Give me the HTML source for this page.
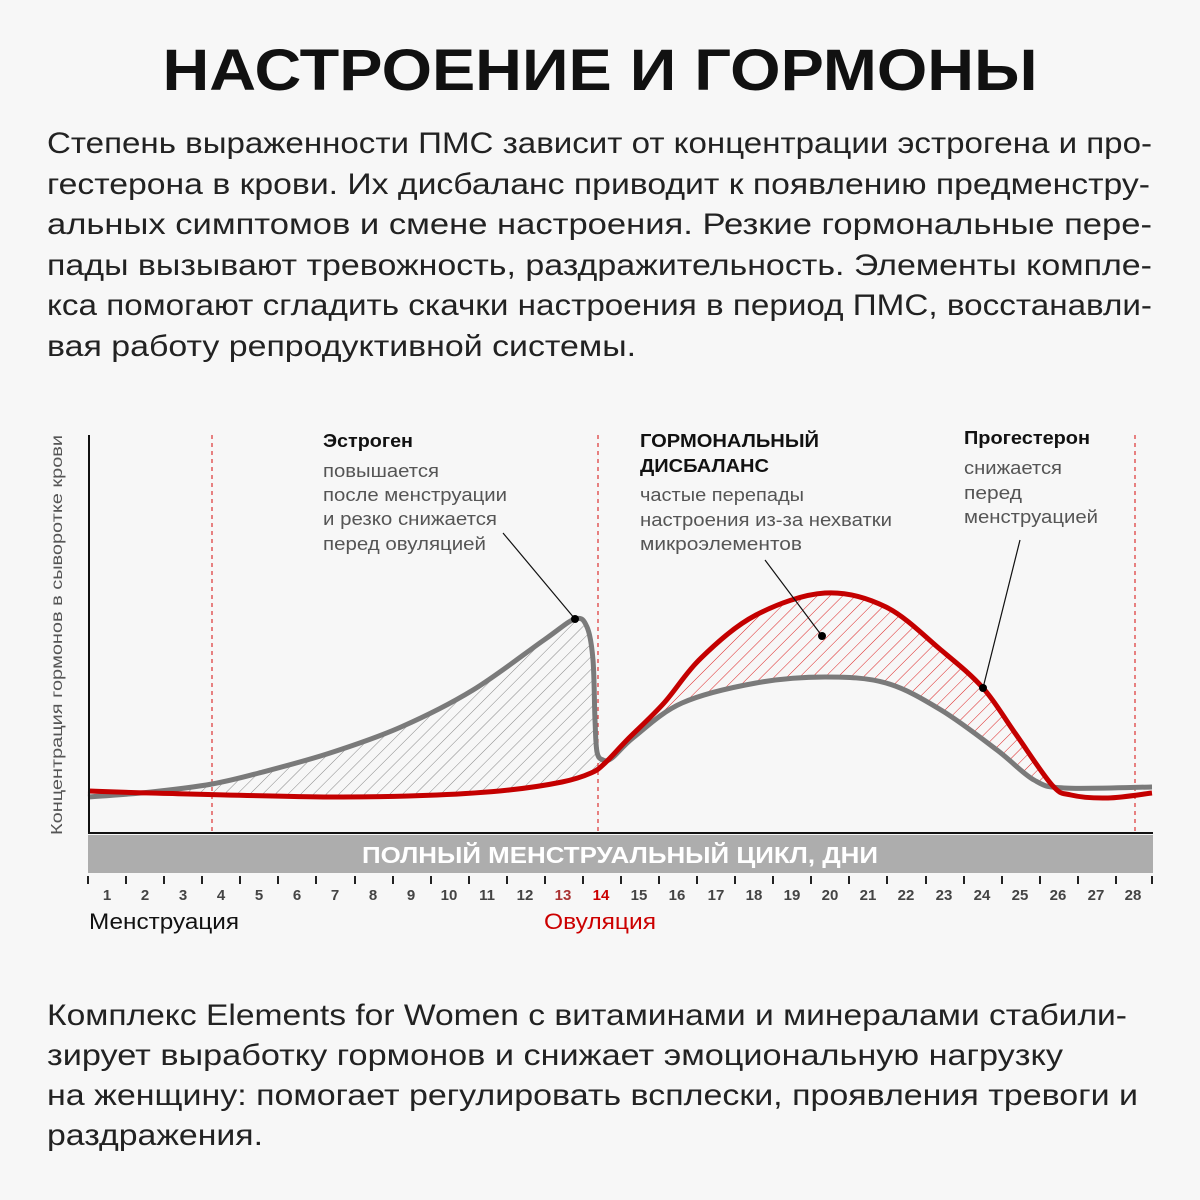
<!DOCTYPE html>
<html><head><meta charset="utf-8"><style>
html,body{margin:0;padding:0;background:#f7f7f7;}
svg{display:block;}
text{font-family:"Liberation Sans",sans-serif;}
</style></head><body>
<svg id="s" width="1200" height="1200" viewBox="0 0 1200 1200" xmlns="http://www.w3.org/2000/svg">
<defs>
<pattern id="hg" patternUnits="userSpaceOnUse" width="9" height="9" patternTransform="rotate(45)">
<line x1="0" y1="0" x2="0" y2="9" stroke="#888" stroke-width="1"/></pattern>
<pattern id="hr" patternUnits="userSpaceOnUse" width="9" height="9" patternTransform="rotate(45)">
<line x1="0" y1="0" x2="0" y2="9" stroke="#d22" stroke-width="1"/></pattern>
</defs>
<rect width="1200" height="1200" fill="#f7f7f7"/>
<text x="600" y="90" text-anchor="middle" font-size="58" font-weight="bold" fill="#111" textLength="875" lengthAdjust="spacingAndGlyphs">НАСТРОЕНИЕ И ГОРМОНЫ</text>
<g font-size="30" fill="#222">
<text x="47" y="153" textLength="1105" lengthAdjust="spacingAndGlyphs">Степень выраженности ПМС зависит от концентрации эстрогена и про-</text>
<text x="47" y="194" textLength="1103" lengthAdjust="spacingAndGlyphs">гестерона в крови. Их дисбаланс приводит к появлению предменстру-</text>
<text x="47" y="234" textLength="1105" lengthAdjust="spacingAndGlyphs">альных симптомов и смене настроения. Резкие гормональные пере-</text>
<text x="47" y="275" textLength="1105" lengthAdjust="spacingAndGlyphs">пады вызывают тревожность, раздражительность. Элементы компле-</text>
<text x="47" y="315" textLength="1105" lengthAdjust="spacingAndGlyphs">кса помогают сгладить скачки настроения в период ПМС, восстанавли-</text>
<text x="47" y="356" textLength="589" lengthAdjust="spacingAndGlyphs">вая работу репродуктивной системы.</text>
</g>
<path id="fg" fill="url(#hg)"/>
<path id="fr" fill="url(#hr)"/>
<g stroke="#d33" stroke-width="1.2" stroke-dasharray="4,4">
<line x1="212" y1="435" x2="212" y2="832"/>
<line x1="598" y1="435" x2="598" y2="832"/>
<line x1="1135" y1="435" x2="1135" y2="832"/>
</g>
<path id="cg" fill="none" stroke="#7a7a7a" stroke-width="5"/>
<path id="cr" fill="none" stroke="#c40000" stroke-width="5"/>
<g stroke="#111" stroke-width="1.2">
<line x1="503" y1="533" x2="575" y2="619"/>
<line x1="765" y1="560" x2="822" y2="636"/>
<line x1="1020" y1="540" x2="983" y2="688"/>
</g>
<circle cx="575" cy="619" r="4" fill="#000"/>
<circle cx="822" cy="636" r="4" fill="#000"/>
<circle cx="983" cy="688" r="4" fill="#000"/>
<line x1="89" y1="435" x2="89" y2="834" stroke="#111" stroke-width="2"/>
<line x1="88" y1="833" x2="1153" y2="833" stroke="#111" stroke-width="2"/>
<text transform="translate(62,635) rotate(-90)" text-anchor="middle" font-size="16" fill="#555" textLength="400" lengthAdjust="spacingAndGlyphs">Концентрация гормонов в сыворотке крови</text>
<g font-size="18">
<text x="323" y="447" font-weight="bold" fill="#111" textLength="90" lengthAdjust="spacingAndGlyphs">Эстроген</text>
<text x="323" y="477" fill="#555" textLength="116" lengthAdjust="spacingAndGlyphs">повышается</text>
<text x="323" y="501" fill="#555" textLength="184" lengthAdjust="spacingAndGlyphs">после менструации</text>
<text x="323" y="525" fill="#555" textLength="174" lengthAdjust="spacingAndGlyphs">и резко снижается</text>
<text x="323" y="550" fill="#555" textLength="163" lengthAdjust="spacingAndGlyphs">перед овуляцией</text>
<text x="640" y="447" font-weight="bold" fill="#111" textLength="179" lengthAdjust="spacingAndGlyphs">ГОРМОНАЛЬНЫЙ</text>
<text x="640" y="472" font-weight="bold" fill="#111" textLength="129" lengthAdjust="spacingAndGlyphs">ДИСБАЛАНС</text>
<text x="640" y="501" fill="#555" textLength="164" lengthAdjust="spacingAndGlyphs">частые перепады</text>
<text x="640" y="526" fill="#555" textLength="252" lengthAdjust="spacingAndGlyphs">настроения из-за нехватки</text>
<text x="640" y="550" fill="#555" textLength="162" lengthAdjust="spacingAndGlyphs">микроэлементов</text>
<text x="964" y="444" font-weight="bold" fill="#111" textLength="126" lengthAdjust="spacingAndGlyphs">Прогестерон</text>
<text x="964" y="474" fill="#555" textLength="98" lengthAdjust="spacingAndGlyphs">снижается</text>
<text x="964" y="499" fill="#555" textLength="58" lengthAdjust="spacingAndGlyphs">перед</text>
<text x="964" y="523" fill="#555" textLength="134" lengthAdjust="spacingAndGlyphs">менструацией</text>
</g>
<rect x="88" y="835" width="1065" height="38" fill="#adadad"/>
<text x="620" y="863" text-anchor="middle" font-size="23" font-weight="bold" fill="#fff" textLength="516" lengthAdjust="spacingAndGlyphs">ПОЛНЫЙ МЕНСТРУАЛЬНЫЙ ЦИКЛ, ДНИ</text>
<g stroke="#222" stroke-width="2">
<line x1="88" y1="876" x2="88" y2="884"/><line x1="126" y1="876" x2="126" y2="884"/><line x1="164" y1="876" x2="164" y2="884"/><line x1="202" y1="876" x2="202" y2="884"/><line x1="240" y1="876" x2="240" y2="884"/><line x1="278" y1="876" x2="278" y2="884"/><line x1="316" y1="876" x2="316" y2="884"/><line x1="355" y1="876" x2="355" y2="884"/><line x1="393" y1="876" x2="393" y2="884"/><line x1="431" y1="876" x2="431" y2="884"/><line x1="469" y1="876" x2="469" y2="884"/><line x1="507" y1="876" x2="507" y2="884"/><line x1="545" y1="876" x2="545" y2="884"/><line x1="583" y1="876" x2="583" y2="884"/><line x1="621" y1="876" x2="621" y2="884"/><line x1="659" y1="876" x2="659" y2="884"/><line x1="697" y1="876" x2="697" y2="884"/><line x1="735" y1="876" x2="735" y2="884"/><line x1="773" y1="876" x2="773" y2="884"/><line x1="811" y1="876" x2="811" y2="884"/><line x1="849" y1="876" x2="849" y2="884"/><line x1="887" y1="876" x2="887" y2="884"/><line x1="926" y1="876" x2="926" y2="884"/><line x1="964" y1="876" x2="964" y2="884"/><line x1="1002" y1="876" x2="1002" y2="884"/><line x1="1040" y1="876" x2="1040" y2="884"/><line x1="1078" y1="876" x2="1078" y2="884"/><line x1="1116" y1="876" x2="1116" y2="884"/><line x1="1152" y1="876" x2="1152" y2="884"/>
</g>
<g font-size="15" fill="#444" text-anchor="middle" font-weight="bold">
<text x="107" y="900">1</text><text x="145" y="900">2</text><text x="183" y="900">3</text><text x="221" y="900">4</text><text x="259" y="900">5</text><text x="297" y="900">6</text><text x="335" y="900">7</text><text x="373" y="900">8</text><text x="411" y="900">9</text><text x="449" y="900">10</text><text x="487" y="900">11</text><text x="525" y="900">12</text><text x="563" y="900" fill="#a33">13</text><text x="601" y="900" fill="#c00">14</text><text x="639" y="900">15</text><text x="677" y="900">16</text><text x="716" y="900">17</text><text x="754" y="900">18</text><text x="792" y="900">19</text><text x="830" y="900">20</text><text x="868" y="900">21</text><text x="906" y="900">22</text><text x="944" y="900">23</text><text x="982" y="900">24</text><text x="1020" y="900">25</text><text x="1058" y="900">26</text><text x="1096" y="900">27</text><text x="1133" y="900">28</text>
</g>
<text x="89" y="929" font-size="22" fill="#111" textLength="150" lengthAdjust="spacingAndGlyphs">Менструация</text>
<text x="544" y="929" font-size="22" fill="#c00" textLength="112" lengthAdjust="spacingAndGlyphs">Овуляция</text>
<g font-size="30" fill="#222">
<text x="47" y="1025" textLength="1080" lengthAdjust="spacingAndGlyphs">Комплекс Elements for Women с витаминами и минералами стабили-</text>
<text x="47" y="1065" textLength="1016" lengthAdjust="spacingAndGlyphs">зирует выработку гормонов и снижает эмоциональную нагрузку</text>
<text x="47" y="1105" textLength="1091" lengthAdjust="spacingAndGlyphs">на женщину: помогает регулировать всплески, проявления тревоги и</text>
<text x="47" y="1145" textLength="216" lengthAdjust="spacingAndGlyphs">раздражения.</text>
</g>
</svg>
<script>
var G=[[88,797],[151,792],[212,784],[259,773],[330,753],[401,727],[473,690],[544,640],[575,619],[587,627],[593,660],[595,720],[597,752],[603,760],[612,758],[634,737],[682,703],[756,683],[825,677],[886,683],[941,710],[997,750],[1034,780],[1064,788],[1152,787]];
var R=[[88,791],[151,793],[330,797],[437,795],[509,790],[562,782],[591,773],[605,763],[627,740],[664,703],[701,658],[756,615],[825,593],[886,607],[941,650],[983,688],[1015,733],[1052,785],[1071,795],[1108,798],[1152,793]];
function cr(p,start){var d=start?"M"+p[0][0]+","+p[0][1]:"";for(var i=0;i<p.length-1;i++){var a=p[i-1]||p[i],b=p[i],c=p[i+1],e=p[i+2]||c;var t=0.5/3;
d+=" C"+(b[0]+(c[0]-a[0])*t).toFixed(1)+","+(b[1]+(c[1]-a[1])*t).toFixed(1)+" "+(c[0]-(e[0]-b[0])*t).toFixed(1)+","+(c[1]-(e[1]-b[1])*t).toFixed(1)+" "+c[0]+","+c[1];}return d;}
document.getElementById("cg").setAttribute("d",cr(G,1));
document.getElementById("cr").setAttribute("d",cr(R,1));
var g1=G.slice(1,15),r1=R.slice(1,8).reverse();
document.getElementById("fg").setAttribute("d",cr(g1,1)+" L"+r1[0]+cr(r1,0)+"Z");
var r2=R.slice(7,18),g2=G.slice(14,23).reverse();
document.getElementById("fr").setAttribute("d",cr(r2,1)+" L"+g2[0]+cr(g2,0)+"Z");
</script>
</body></html>
